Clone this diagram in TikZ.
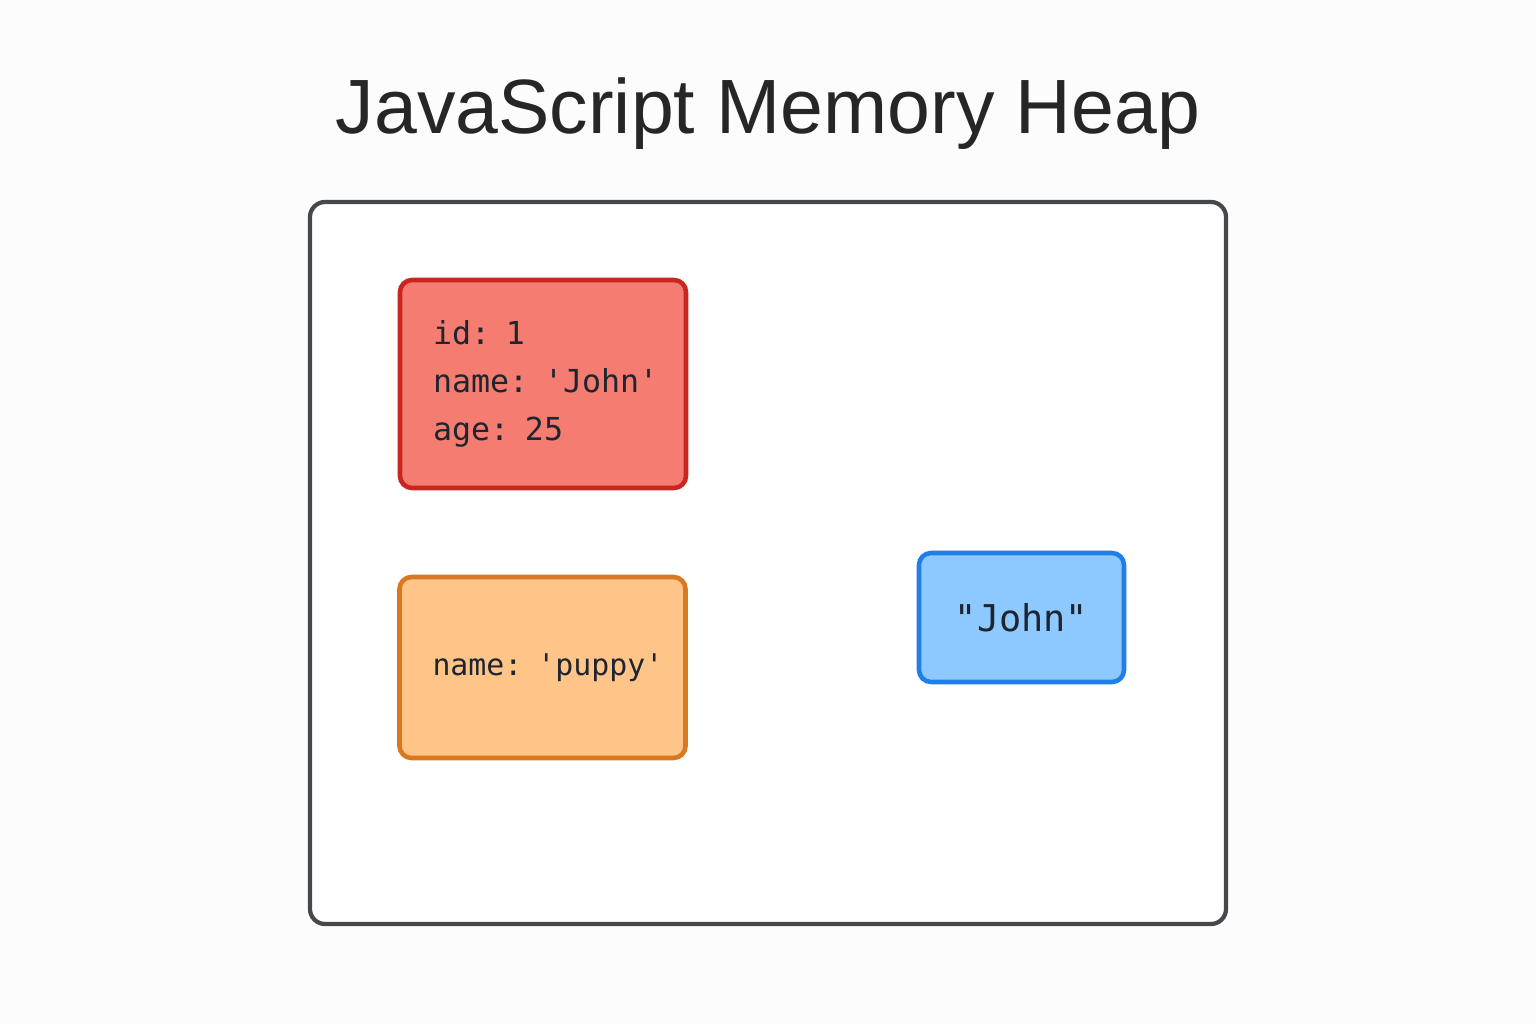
\documentclass[tikz,border=0pt]{standalone}
\usepackage{fontspec}
\setmainfont{Liberation Sans}
\setmonofont{DejaVu Sans Mono}
\usepackage{tikz}
\usetikzlibrary{positioning}
\definecolor{heapline}{HTML}{45484C}
\definecolor{codetext}{HTML}{1E2430}
\definecolor{redfill}{HTML}{F47C71}
\definecolor{redline}{HTML}{C8271F}
\definecolor{orangefill}{HTML}{FFC487}
\definecolor{orangeline}{HTML}{D9781E}
\definecolor{bluefill}{HTML}{8DC8FF}
\definecolor{blueline}{HTML}{1F7FE6}

\begin{document}
\begin{tikzpicture}[
    every node/.style={font=\sffamily},
    title/.style={font=\fontsize{21.9}{26}\selectfont, color=black!85},
    heap/.style={
        rectangle,
        rounded corners=0.15cm,
        draw=heapline,
        fill=white,
        line width=1.2pt,
        minimum width=9.16cm,
        minimum height=7.22cm
    },
    obj/.style={
        rectangle,
        rounded corners=0.12cm,
        line width=1.3pt,
        align=center,
        text=codetext,
        font=\ttfamily\fontsize{9}{13.6}\selectfont
    },
    record/.style={
        obj,
        align=left,
        inner xsep=0.33cm,
        text width=2.2cm
    }
]
\fill[white!99!black] (0,0) rectangle (15.36,10.24);
\useasboundingbox (0,0) rectangle (15.36,10.24);

% TITLE
\node[title] (heading) at (7.68, 9.10) {JavaScript Memory Heap};

% HEAP
\node[heap] (heapbox) at (7.68, 4.61) {};

% OBJECTS
\node[record, draw=redline, fill=redfill, minimum height=2.08cm] (user) at (5.43, 6.40)
    {\mbox{id: 1}\\\mbox{name: 'John'}\\\mbox{age: 25}};
\node[record, draw=orangeline, fill=orangefill, minimum height=1.81cm,
      font=\ttfamily\fontsize{8.5}{12}\selectfont] (pet) at (5.425, 3.565)
    {\mbox{name: 'puppy'}};
\node[obj, draw=blueline, fill=bluefill, minimum width=2.05cm, minimum height=1.29cm,
      font=\ttfamily\fontsize{10.5}{12}\selectfont] (str) at (10.215, 4.065)
    {"John"};

\end{tikzpicture}
\end{document}
